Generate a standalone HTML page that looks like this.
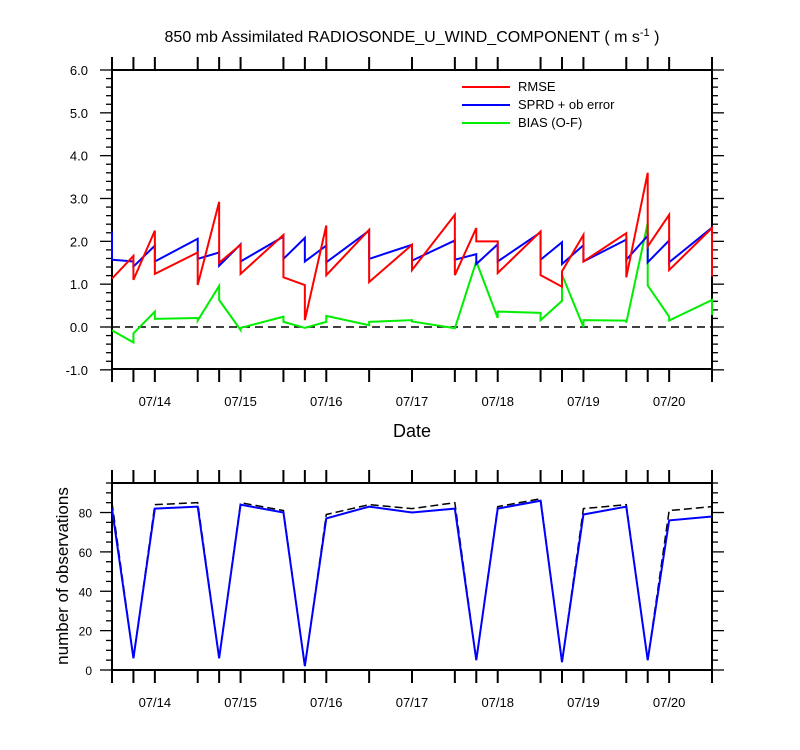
<!DOCTYPE html>
<html><head><meta charset="utf-8"><style>
body{margin:0;background:#fff;}
svg{display:block;font-family:"Liberation Sans",Arial,sans-serif;}
</style></head><body>
<svg id="c" width="800" height="750" xmlns="http://www.w3.org/2000/svg">
<text x="412" y="42" font-size="16" text-anchor="middle">850 mb Assimilated RADIOSONDE_U_WIND_COMPONENT ( m s<tspan dy="-6" font-size="11">-1</tspan><tspan dy="6"> )</tspan></text>
<text x="412" y="437" font-size="18" text-anchor="middle">Date</text>
<text transform="translate(68,576) rotate(-90)" font-size="17" text-anchor="middle">number of observations</text>
<g id="legend">
<line x1="462" y1="87" x2="510" y2="87" stroke="#f00" stroke-width="2"/><text x="518" y="91" font-size="13">RMSE</text>
<line x1="462" y1="105" x2="510" y2="105" stroke="#00f" stroke-width="2"/><text x="518" y="109" font-size="13">SPRD + ob error</text>
<line x1="462" y1="123" x2="510" y2="123" stroke="#0e0" stroke-width="2"/><text x="518" y="127" font-size="13">BIAS (O-F)</text>
</g>
</svg>
<script>
// hours since 07/13 12Z
const times=[0,6,12,24,30,36,48,54,60,72,84,96,102,108,120,126,132,144,150,156,168];
const rmse=[[1.13,1.13],[1.66,1.10],[2.25,1.24],[1.74,0.98],[2.92,1.50],[1.92,1.24],[2.15,1.16],[0.98,0.16],[2.37,1.21],[2.27,1.05],[1.92,1.33],[2.62,1.21],[2.31,2.0],[2.0,1.26],[2.23,1.21],[0.94,1.30],[2.15,1.53],[2.19,1.16],[3.6,1.88],[2.62,1.33],[2.31,1.18]];
const sprd=[[2.23,1.57],[1.53,1.41],[1.90,1.53],[2.06,1.59],[1.74,1.43],[1.93,1.53],[2.11,1.59],[2.08,1.53],[1.90,1.51],[2.25,1.59],[1.92,1.55],[2.02,1.57],[1.70,1.47],[1.93,1.53],[2.21,1.57],[1.98,1.47],[1.91,1.53],[2.04,1.57],[2.13,1.51],[2.02,1.51],[2.32,1.6]];
const bias=[[-0.08,-0.08],[-0.36,-0.15],[0.36,0.19],[0.21,0.15],[0.96,0.63],[-0.07,-0.02],[0.24,0.12],[-0.02,-0.02],[0.12,0.26],[0.04,0.12],[0.16,0.13],[-0.03,-0.03],[1.53,1.53],[0.21,0.36],[0.33,0.16],[0.61,1.22],[0.0,0.16],[0.15,0.10],[2.43,0.97],[0.24,0.15],[0.63,0.28]];
const obsUsed=[82,6,82,83,6,84,80,2,77,83,80,82,5,82,86,4,79,83,5,76,78];
const obsTotal=[85,6,84,85,6,85,81,2,79,84,82,85,5,83,87,4,82,84,5,81,83];
const dayLabels=["07/14","07/15","07/16","07/17","07/18","07/19","07/20"];
const dayHours=[12,36,60,84,108,132,156];
const yTicksTop=[-1,0,1,2,3,4,5,6];
const yTicksBot=[0,20,40,60,80];

const svg=document.getElementById('c');
const NS='http://www.w3.org/2000/svg';
const X0=112,X1=712;
const x=h=>X0+(X1-X0)*h/168;
const yT=v=>327-(327-70)*v/6;
const yB=v=>670-(670-483)*v/95;
function el(tag,attrs,parent){const e=document.createElementNS(NS,tag);for(const k in attrs)e.setAttribute(k,attrs[k]);(parent||svg).appendChild(e);return e;}
function frame(top,bot,ymin,ymax,yf,majors,minorStep,name){
  const g=el('g',{});
  
  
  el('rect',{x:X0,y:top,width:X1-X0,height:bot-top,fill:'none',stroke:'#000','stroke-width':2},g);
  times.forEach(h=>{
    const L=13;
    el('line',{x1:x(h),y1:bot,x2:x(h),y2:bot+L,stroke:'#000','stroke-width':2},g);
    el('line',{x1:x(h),y1:top,x2:x(h),y2:top-L,stroke:'#000','stroke-width':2},g);
  });
  for(let v=ymin;v<=ymax+1e-9;v+=minorStep){
    const major=majors.some(m=>Math.abs(m-v)<1e-6);const L=major?12:6;
    el('line',{x1:X0,y1:yf(v),x2:X0-L,y2:yf(v),stroke:'#000','stroke-width':1.3},g);
    el('line',{x1:X1,y1:yf(v),x2:X1+L,y2:yf(v),stroke:'#000','stroke-width':1.3},g);
  }
  return g;
}
const gt=frame(70,369,-1,6,yT,yTicksTop,0.2,'top-plot-frame');
yTicksTop.forEach(v=>{const t=el('text',{x:88,y:yT(v)+5,'font-size':13,'text-anchor':'end'});t.textContent=v.toFixed(1);

});
const gb=frame(483,670,0,95,yB,yTicksBot,5,'bottom-plot-frame');
yTicksBot.forEach(v=>{const t=el('text',{x:92,y:yB(v)+5,'font-size':12,'text-anchor':'end'});t.textContent=v;

});
dayLabels.forEach((d,i)=>{
  const a=el('text',{x:x(dayHours[i]),y:406,'font-size':13,'text-anchor':'middle'});a.textContent=d;
  
  
  const b=el('text',{x:x(dayHours[i]),y:707,'font-size':13,'text-anchor':'middle'});b.textContent=d;
  
  
});
const zero=el('line',{x1:X0,y1:yT(0),x2:X1,y2:yT(0),stroke:'#000','stroke-width':1.5,'stroke-dasharray':'8,5'});


function saw(arr,color,name){
  const pts=[];arr.forEach((p,i)=>{pts.push(x(times[i])+','+yT(p[0]));pts.push(x(times[i])+','+yT(p[1]));});
  const l=el('polyline',{points:pts.join(' '),fill:'none',stroke:color,'stroke-width':2});
  
  
}
saw(bias,'#0e0','bias-line');
saw(sprd,'#00f','sprd-line');
saw(rmse,'#f00','rmse-line');
const pT=el('polyline',{points:obsTotal.map((v,i)=>x(times[i])+','+yB(v)).join(' '),fill:'none',stroke:'#000','stroke-width':1.5,'stroke-dasharray':'8,4'});


const pU=el('polyline',{points:obsUsed.map((v,i)=>x(times[i])+','+yB(v)).join(' '),fill:'none',stroke:'#00f','stroke-width':2});


svg.appendChild(document.getElementById('legend'));
</script>
</body></html>
